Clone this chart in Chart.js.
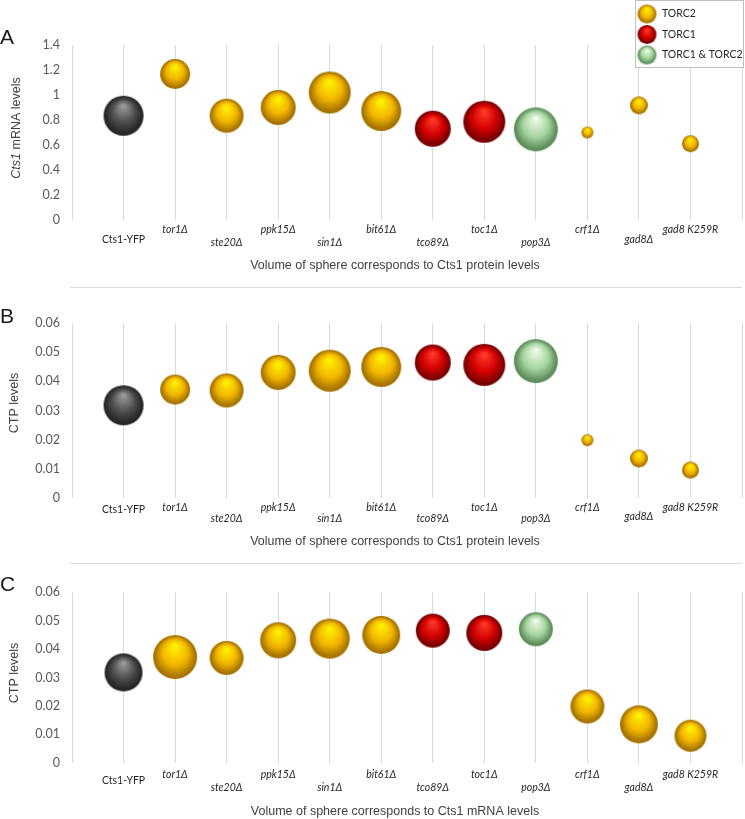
<!DOCTYPE html>
<html>
<head>
<meta charset="utf-8">
<script src="https://cdn.jsdelivr.net/npm/chart.js@4.4.1/dist/chart.umd.min.js"></script>
<style>
  body { margin: 0; background: #fff; width: 745px; height: 819px; position: relative; overflow: hidden; }
  .panel { position: absolute; left: 0; width: 745px; }
  .sep { position: absolute; left: 70px; width: 672px; height: 1px; background: #d9d9d9; }
</style>
</head>
<body>
<div class="panel" style="top:0;height:287px"><canvas id="chartA" width="745" height="287"></canvas></div>
<div class="sep" style="top:287px"></div>
<div class="panel" style="top:288px;height:275px"><canvas id="chartB" width="745" height="275"></canvas></div>
<div class="sep" style="top:563px"></div>
<div class="panel" style="top:564px;height:255px"><canvas id="chartC" width="745" height="255"></canvas></div>

<script>
// strains, in plot order
const categories = ["Cts1-YFP", "tor1Δ", "ste20Δ", "ppk15Δ", "sin1Δ", "bit61Δ",
  "tco89Δ", "toc1Δ", "pop3Δ", "crf1Δ", "gad8Δ", "gad8 K259R"];
const complexes = ["control", "TORC2", "TORC2", "TORC2", "TORC2", "TORC2",
  "TORC1", "TORC1", "TORC1 & TORC2", "TORC2", "TORC2", "TORC2"];

// y values
const cts1Mrna = [0.834, 1.168, 0.834, 0.90, 1.02, 0.872, 0.73, 0.786, 0.725, 0.70, 0.917, 0.61];
const ctpLevels = [0.0318, 0.0372, 0.0369, 0.0431, 0.0437, 0.045, 0.0465, 0.0457, 0.047, 0.0198, 0.0135, 0.0095];

// sphere sizes (bubble radius)
const proteinSphere = [20, 15, 17, 17.5, 21, 20, 18, 21, 22, 6, 9, 8.5];
const mrnaSphere = [19, 22, 17, 18, 20, 19, 17, 18, 17, 17, 19, 16];

const legendGroups = ["TORC2", "TORC1", "TORC1 & TORC2"];

const sphereColors = {
  "control":       { light: "#9a9a9a", base: "#4d4d4d", dark: "#262626" },
  "TORC2":         { light: "#fff200", base: "#f2b600", dark: "#a87400" },
  "TORC1":         { light: "#ff3a2a", base: "#d40000", dark: "#7a0000" },
  "TORC1 & TORC2": { light: "#eefbe8", base: "#a6d5a0", dark: "#5f8f5d" }
};

const sphereCache = {};
function sphere(group, r) {
  const key = group + r;
  if (sphereCache[key]) return sphereCache[key];
  const col = sphereColors[group];
  const size = Math.ceil(r * 2) + 2;
  const c = document.createElement("canvas");
  c.width = c.height = size;
  const g = c.getContext("2d");
  const cx = size / 2, cy = size / 2;
  const grad = g.createRadialGradient(cx, cy - r * 0.5, r * 0.05, cx, cy, r);
  grad.addColorStop(0, col.light);
  grad.addColorStop(0.55, col.base);
  grad.addColorStop(0.92, col.dark);
  grad.addColorStop(1, col.dark);
  g.fillStyle = grad;
  g.beginPath();
  g.arc(cx, cy, r, 0, Math.PI * 2);
  g.fill();
  sphereCache[key] = c;
  return c;
}

// text around each panel: letter, axis titles, staggered strain labels
const panelText = {
  id: "panelText",
  afterDraw(chart, args, o) {
    const ctx = chart.ctx, area = chart.chartArea, xs = chart.scales.x;
    ctx.save();
    ctx.textBaseline = "middle";

    ctx.fillStyle = "#1a1a1a";
    ctx.font = '21px "Liberation Sans"';
    ctx.textAlign = "left";
    ctx.fillText(o.letter, 0, o.letterY);

    ctx.fillStyle = "#262626";
    ctx.textAlign = "center";
    categories.forEach((name, i) => {
      const x = xs.getPixelForValue(i + 1);
      let dy = o.rows.upper;
      if (i === 0) dy = o.rows.first;
      else if (i === 10) dy = o.rows.gad8;
      else if (i % 2 === 0) dy = o.rows.lower;
      ctx.font = (i === 0 ? "" : "italic ") + "10.5px Lato";
      ctx.fillText(name, x, area.bottom + dy);
    });

    ctx.fillStyle = "#404040";
    ctx.font = '12.5px "Liberation Sans"';
    ctx.fillText(o.xTitle, o.xTitleX, o.xTitleY);

    ctx.translate(o.yTitleX, o.yTitleY);
    ctx.rotate(-Math.PI / 2);
    ctx.textAlign = "left";
    const fonts = o.yTitle.map(p => (p.italic ? "italic " : "") + '12.5px "Liberation Sans"');
    let total = 0;
    o.yTitle.forEach((p, i) => { ctx.font = fonts[i]; total += ctx.measureText(p.text).width; });
    let x = -total / 2;
    o.yTitle.forEach((p, i) => {
      ctx.font = fonts[i];
      ctx.fillText(p.text, x, 0);
      x += ctx.measureText(p.text).width;
    });
    ctx.restore();
  }
};

const sphereLegend = {
  id: "sphereLegend",
  afterDraw(chart, args, o) {
    if (!o.show) return;
    const ctx = chart.ctx;
    ctx.save();
    ctx.strokeStyle = "#bfbfbf";
    ctx.lineWidth = 1;
    ctx.fillStyle = "#fff";
    ctx.fillRect(635.5, 0.5, 108, 67);
    ctx.strokeRect(635.5, 0.5, 108, 67);
    ctx.font = "10.5px Lato";
    ctx.fillStyle = "#262626";
    ctx.textBaseline = "middle";
    legendGroups.forEach((grp, i) => {
      const y = 14 + i * 20.5;
      const img = sphere(grp, 9.5);
      ctx.drawImage(img, 647 - img.width / 2, y - img.height / 2);
      ctx.fillText(grp, 662, y);
    });
    ctx.restore();
  }
};

function makePanel(id, yValues, sizes, yMax, yStep, pad, text, showLegend) {
  const points = yValues.map((v, i) => ({ x: i + 1, y: v, r: sizes[i] }));
  return new Chart(document.getElementById(id), {
    type: "bubble",
    data: {
      datasets: [{
        data: points,
        pointStyle: c => sphere(complexes[c.dataIndex], c.raw.r),
        backgroundColor: "rgba(0,0,0,0)",
        borderWidth: 0,
        clip: false
      }]
    },
    options: {
      responsive: false,
      animation: false,
      events: [],
      devicePixelRatio: 1,
      layout: { autoPadding: false, padding: { left: 0, right: 3, top: pad.top, bottom: pad.bottom } },
      plugins: {
        legend: { display: false },
        tooltip: { enabled: false },
        panelText: text,
        sphereLegend: { show: showLegend }
      },
      scales: {
        x: {
          type: "linear",
          min: 0,
          max: 13,
          ticks: { stepSize: 1, display: false },
          grid: { color: "#d9d9d9", drawTicks: false },
          border: { display: false },
          afterFit: s => { s.height = 0; }
        },
        y: {
          min: 0,
          max: yMax,
          ticks: {
            stepSize: yStep,
            padding: 12,
            color: "#595959",
            font: { family: "Lato", size: 12.5 },
            callback: v => String(Math.round(v * 100) / 100)
          },
          grid: { display: false, drawTicks: false },
          border: { display: false },
          afterFit: s => { s.width = 72; }
        }
      }
    },
    plugins: [panelText, sphereLegend]
  });
}

makePanel("chartA", cts1Mrna, proteinSphere, 1.4, 0.2, { top: 45, bottom: 67 }, {
  letter: "A", letterY: 38,
  rows: { upper: 9.5, lower: 23, first: 20, gad8: 20 },
  xTitle: "Volume of sphere corresponds to Cts1 protein levels", xTitleX: 395, xTitleY: 266,
  yTitle: [{ text: "Cts1", italic: true }, { text: " mRNA levels" }], yTitleX: 17, yTitleY: 128
}, true);

makePanel("chartB", ctpLevels, proteinSphere, 0.06, 0.01, { top: 35.3, bottom: 65.3 }, {
  letter: "B", letterY: 29,
  rows: { upper: 10, lower: 21, first: 12, gad8: 19 },
  xTitle: "Volume of sphere corresponds to Cts1 protein levels", xTitleX: 395, xTitleY: 254,
  yTitle: [{ text: "CTP levels" }], yTitleX: 15, yTitleY: 115
}, false);

makePanel("chartC", ctpLevels, mrnaSphere, 0.06, 0.01, { top: 28.3, bottom: 56.3 }, {
  letter: "C", letterY: 21,
  rows: { upper: 12, lower: 25, first: 18, gad8: 25 },
  xTitle: "Volume of sphere corresponds to Cts1 mRNA levels", xTitleX: 395, xTitleY: 248,
  yTitle: [{ text: "CTP levels" }], yTitleX: 15, yTitleY: 109
}, false);
</script>
</body>
</html>
